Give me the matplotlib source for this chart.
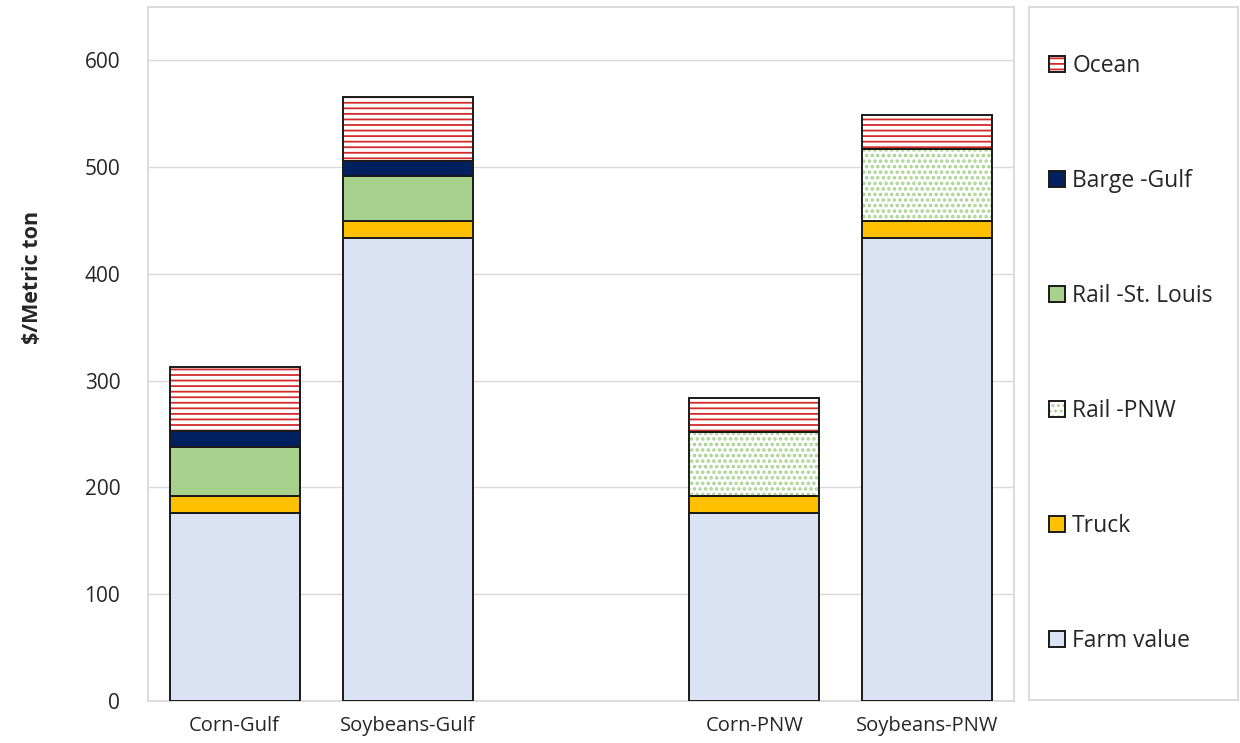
import numpy as np
import matplotlib
matplotlib.use("Agg")
import matplotlib.pyplot as plt
from matplotlib.patches import Patch

plt.rcParams['font.family'] = ['Open Sans', 'DejaVu Sans']
plt.rcParams['hatch.linewidth'] = 1.3

# ---- data ----
categories = ['Corn-Gulf', 'Soybeans-Gulf', 'Corn-PNW', 'Soybeans-PNW']
farm_value = [176, 434, 176, 434]
truck = [16, 16, 16, 16]
rail_pnw = [0, 0, 60, 67]
rail_stl = [46, 42, 0, 0]
barge_gulf = [15, 14, 0, 0]
ocean = [60, 60, 32, 32]
series_names = ['Farm value', 'Truck', 'Rail -PNW', 'Rail -St. Louis', 'Barge -Gulf', 'Ocean']
yticks = [0, 100, 200, 300, 400, 500, 600]

# ---- styling ----
edge = '#1a1a1a'
grid_c = '#d9d9d9'
txt_c = '#262626'
styles = {
    'Farm value': dict(color='#dae3f3'),
    'Truck': dict(color='#ffc000'),
    'Rail -St. Louis': dict(color='#a9d18e'),
    'Barge -Gulf': dict(color='#002060'),
    'Rail -PNW': dict(color='white', hatch='...', hcolor='#a9d18e', hlw=1.7),
    'Ocean': dict(color='white', hatch='---', hcolor='#d22b2b', hlw=1.3),
}


def set_hlw(patch, lw):
    if hasattr(patch, 'set_hatch_linewidth'):
        patch.set_hatch_linewidth(lw)


fig = plt.figure(figsize=(12.4, 7.43), dpi=100)
ax = fig.add_axes([148/1240, 42/743, (1014-148)/1240, (701-7)/743])

# positions: two groups with a gap between them
x = np.array([i + (1 if i >= 2 else 0) for i in range(len(categories))], dtype=float)
width = 0.75

series = [farm_value, truck, rail_pnw, rail_stl, barge_gulf, ocean]
bottom = np.zeros(len(categories))
for name, vals in zip(series_names, series):
    vals = np.array(vals, dtype=float)
    st = styles[name]
    mask = vals > 0
    if 'hatch' in st:
        bars = ax.bar(x[mask], vals[mask], width, bottom=bottom[mask], color=st['color'],
                      hatch=st['hatch'], edgecolor=st['hcolor'], linewidth=0, zorder=2)
        for b in bars:
            set_hlw(b, st['hlw'])
        ax.bar(x[mask], vals[mask], width, bottom=bottom[mask], fill=False,
               edgecolor=edge, linewidth=1.4, zorder=3)
    else:
        ax.bar(x[mask], vals[mask], width, bottom=bottom[mask], color=st['color'],
               edgecolor=edge, linewidth=1.4, zorder=3)
    bottom += vals

ax.set_xlim(-0.5, 4.5)
ax.set_ylim(0, 650)
ax.set_yticks(yticks)
ax.set_yticklabels([str(v) for v in yticks], fontsize=15, color=txt_c)
ax.set_xticks(x)
ax.set_xticklabels(categories, fontsize=14.5, color=txt_c)
ax.tick_params(length=0)
ax.tick_params(axis='y', pad=20)
ax.tick_params(axis='x', pad=11)
ax.grid(axis='y', color=grid_c, linewidth=1, zorder=0)
ax.set_axisbelow(True)
for sp in ax.spines.values():
    sp.set_color(grid_c)
    sp.set_linewidth(1.3)
ax.set_ylabel('$/Metric ton', fontsize=15.5, fontweight='bold', color=txt_c)
ax.yaxis.set_label_coords(-0.121, 0.611)

# ---- legend box ----
lax = fig.add_axes([1029/1240, 43/743, 209/1240, 693/743])
lax.set_xticks([])
lax.set_yticks([])
for sp in lax.spines.values():
    sp.set_color(grid_c)
    sp.set_linewidth(1.3)

handles = []
for name in reversed(series_names):
    st = styles[name]
    if 'hatch' in st:
        hp = Patch(facecolor='white', hatch=st['hatch'], edgecolor=st['hcolor'], linewidth=0)
        set_hlw(hp, st['hlw'])
        h = (hp, Patch(fill=False, edgecolor=edge, linewidth=1.4))
    else:
        h = Patch(facecolor=st['color'], edgecolor=edge, linewidth=1.4)
    handles.append(h)
labels = list(reversed(series_names))
leg = lax.legend(handles, labels, loc='center left', bbox_to_anchor=(0.095, 0.5),
                 frameon=False, fontsize=16.5, handlelength=0.72, handleheight=0.72,
                 handletextpad=0.3, labelspacing=3.97, borderaxespad=0, borderpad=0)
for t in leg.get_texts():
    t.set_color(txt_c)

fig.savefig('out.png', dpi=100)
